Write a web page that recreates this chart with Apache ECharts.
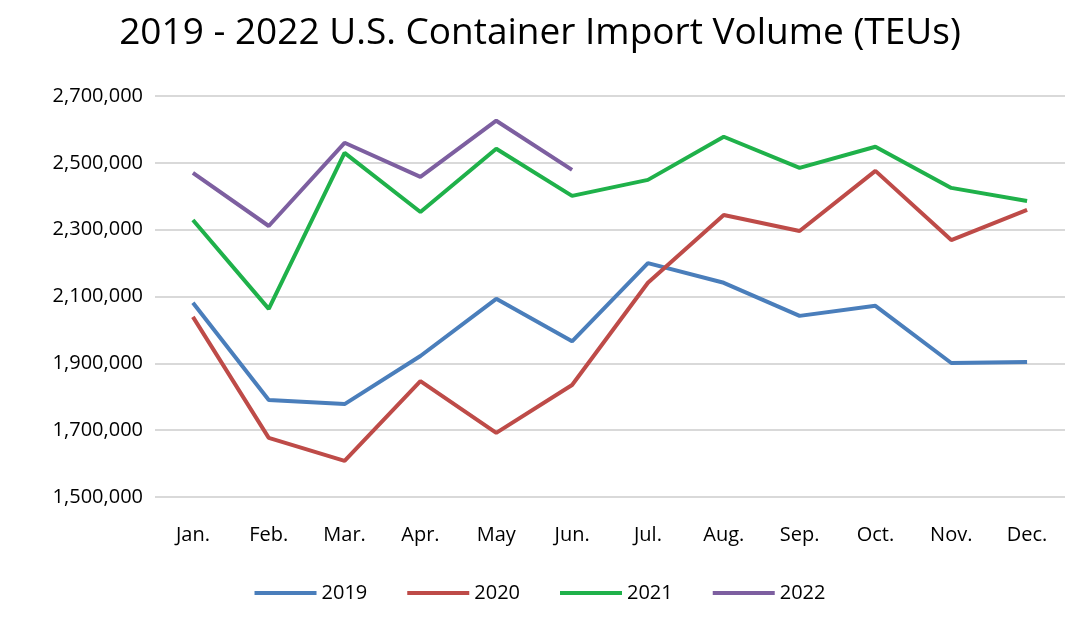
<!DOCTYPE html>
<html>
<head>
<meta charset="utf-8">
<script src="https://cdn.jsdelivr.net/npm/echarts@6/dist/echarts.min.js"></script>
<style>html,body{margin:0;background:#fff}#chart{width:1080px;height:622px}</style>
</head>
<body>
<div id="chart"></div>
<script>
// Importações mensais de contêineres (TEUs)
const months = ['Jan.', 'Feb.', 'Mar.', 'Apr.', 'May', 'Jun.', 'Jul.', 'Aug.', 'Sep.', 'Oct.', 'Nov.', 'Dec.'];
const v2019 = [2081000, 1790000, 1778000, 1922000, 2093000, 1966000, 2200000, 2141000, 2042000, 2072000, 1901000, 1904000];
const v2020 = [2039000, 1677000, 1608000, 1847000, 1692000, 1835000, 2141000, 2344000, 2296000, 2476000, 2269000, 2359000];
const v2021 = [2329000, 2063000, 2530000, 2353000, 2542000, 2401000, 2449000, 2578000, 2485000, 2548000, 2425000, 2386000];
const v2022 = [2470000, 2311000, 2560000, 2458000, 2626000, 2479000];

const font = 'Open Sans';
const mk = (name, data, color) => ({
    name: name, type: 'line', data: data, symbol: 'none',
    lineStyle: {width: 4, color: color}, itemStyle: {color: color}
});

const myChart = echarts.init(document.getElementById('chart'));
myChart.setOption({
    animation: false,
    textStyle: {fontFamily: font},
    title: {
        text: '2019 - 2022 U.S. Container Import Volume (TEUs)',
        left: 'center', top: 10,
        textStyle: {fontFamily: font, fontSize: 37, fontWeight: 'normal', color: '#000'}
    },
    legend: {
        bottom: 14, itemWidth: 62, itemHeight: 4, itemGap: 40,
        icon: 'rect',
        textStyle: {fontFamily: font, fontSize: 20, color: '#000'}
    },
    grid: {left: 155, right: 15, top: 96, bottom: 125},
    xAxis: {
        type: 'category', data: months,
        axisLine: {show: false}, axisTick: {show: false},
        axisLabel: {fontSize: 20, color: '#000', margin: 28}
    },
    yAxis: {
        type: 'value', min: 1500000, max: 2700000, interval: 200000,
        axisLabel: {fontSize: 20, color: '#000', margin: 12,
            formatter: v => v.toLocaleString('en-US')},
        splitLine: {lineStyle: {color: '#d9d9d9', width: 2}}
    },
    series: [
        mk('2019', v2019, '#4a7ebb'),
        mk('2020', v2020, '#be4b48'),
        mk('2021', v2021, '#1fb14a'),
        mk('2022', v2022, '#7d5fa0')
    ]
});
</script>
</body>
</html>
